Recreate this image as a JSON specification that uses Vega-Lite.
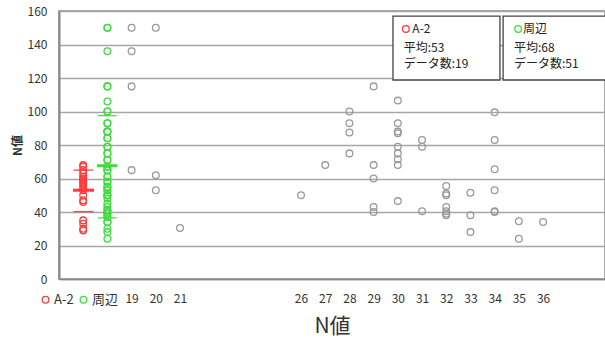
{
  "$schema": "https://vega.github.io/schema/vega-lite/v6.json",
  "width": 546,
  "height": 268,
  "autosize": {"type": "none"},
  "padding": {"left": 59, "top": 11, "right": 0, "bottom": 60},
  "background": "white",
  "config": {
    "font": "Noto Sans CJK JP",
    "view": {"stroke": "#8c8c8c", "strokeWidth": 1.5},
    "legend": {"orient": "none", "legendX": -20, "legendY": 282, "direction": "horizontal", "padding": 0, "labelFontSize": 13, "labelColor": "#333", "columnPadding": 3, "labelOffset": 2, "symbolSize": 45, "symbolStrokeWidth": 1.3}
  },
  "datasets": {
    "pts": [
      {"x": 17, "n": 68, "g": "A-2"}, {"x": 17, "n": 67, "g": "A-2"}, {"x": 17, "n": 65, "g": "A-2"}, {"x": 17, "n": 63, "g": "A-2"}, {"x": 17, "n": 61, "g": "A-2"}, {"x": 17, "n": 60, "g": "A-2"}, {"x": 17, "n": 59, "g": "A-2"}, {"x": 17, "n": 58, "g": "A-2"}, {"x": 17, "n": 57, "g": "A-2"}, {"x": 17, "n": 56, "g": "A-2"}, {"x": 17, "n": 54, "g": "A-2"}, {"x": 17, "n": 53, "g": "A-2"}, {"x": 17, "n": 50, "g": "A-2"}, {"x": 17, "n": 47, "g": "A-2"}, {"x": 17, "n": 46, "g": "A-2"}, {"x": 17, "n": 35, "g": "A-2"}, {"x": 17, "n": 33, "g": "A-2"}, {"x": 17, "n": 30, "g": "A-2"}, {"x": 17, "n": 29, "g": "A-2"},
      {"x": 18, "n": 150, "g": "周辺"}, {"x": 18, "n": 136, "g": "周辺"}, {"x": 18, "n": 115, "g": "周辺"}, {"x": 18, "n": 106, "g": "周辺"}, {"x": 18, "n": 100, "g": "周辺"}, {"x": 18, "n": 93, "g": "周辺"}, {"x": 18, "n": 88, "g": "周辺"}, {"x": 18, "n": 84, "g": "周辺"}, {"x": 18, "n": 79, "g": "周辺"}, {"x": 18, "n": 75, "g": "周辺"}, {"x": 18, "n": 71, "g": "周辺"}, {"x": 18, "n": 67, "g": "周辺"}, {"x": 18, "n": 65, "g": "周辺"}, {"x": 18, "n": 61, "g": "周辺"}, {"x": 18, "n": 58, "g": "周辺"}, {"x": 18, "n": 55, "g": "周辺"}, {"x": 18, "n": 53, "g": "周辺"}, {"x": 18, "n": 50, "g": "周辺"}, {"x": 18, "n": 48, "g": "周辺"}, {"x": 18, "n": 43, "g": "周辺"}, {"x": 18, "n": 41, "g": "周辺"}, {"x": 18, "n": 39, "g": "周辺"}, {"x": 18, "n": 37, "g": "周辺"}, {"x": 18, "n": 34, "g": "周辺"}, {"x": 18, "n": 30, "g": "周辺"}, {"x": 18, "n": 28, "g": "周辺"}, {"x": 18, "n": 24, "g": "周辺"},
      {"x": 18, "n": 150, "g": "周辺"}, {"x": 18, "n": 45, "g": "周辺"}, {"x": 18, "n": 115, "g": "周辺"}, {"x": 18, "n": 88, "g": "周辺"}, {"x": 18, "n": 100, "g": "周辺"}, {"x": 18, "n": 88, "g": "周辺"}, {"x": 18, "n": 93, "g": "周辺"}, {"x": 18, "n": 84, "g": "周辺"}, {"x": 18, "n": 79, "g": "周辺"}, {"x": 18, "n": 75, "g": "周辺"}, {"x": 18, "n": 71, "g": "周辺"}, {"x": 18, "n": 67, "g": "周辺"}, {"x": 18, "n": 65, "g": "周辺"}, {"x": 18, "n": 61, "g": "周辺"}, {"x": 18, "n": 58, "g": "周辺"}, {"x": 18, "n": 55, "g": "周辺"}, {"x": 18, "n": 53, "g": "周辺"}, {"x": 18, "n": 50, "g": "周辺"}, {"x": 18, "n": 50, "g": "周辺"}, {"x": 18, "n": 41, "g": "周辺"}, {"x": 18, "n": 40, "g": "周辺"}, {"x": 18, "n": 39, "g": "周辺"}, {"x": 18, "n": 37, "g": "周辺"}, {"x": 18, "n": 34, "g": "周辺"},
      {"x": 19, "n": 150, "g": "other"}, {"x": 19, "n": 136, "g": "other"}, {"x": 19, "n": 115, "g": "other"}, {"x": 19, "n": 65, "g": "other"},
      {"x": 20, "n": 150, "g": "other"}, {"x": 20, "n": 62, "g": "other"}, {"x": 20, "n": 53, "g": "other"},
      {"x": 21, "n": 30.5, "g": "other"},
      {"x": 26, "n": 50, "g": "other"},
      {"x": 27, "n": 68, "g": "other"},
      {"x": 28, "n": 100, "g": "other"}, {"x": 28, "n": 93, "g": "other"}, {"x": 28, "n": 87.5, "g": "other"}, {"x": 28, "n": 75, "g": "other"},
      {"x": 29, "n": 115, "g": "other"}, {"x": 29, "n": 68, "g": "other"}, {"x": 29, "n": 60, "g": "other"}, {"x": 29, "n": 43, "g": "other"}, {"x": 29, "n": 40, "g": "other"},
      {"x": 30, "n": 106.5, "g": "other"}, {"x": 30, "n": 93, "g": "other"}, {"x": 30, "n": 88, "g": "other"}, {"x": 30, "n": 87, "g": "other"}, {"x": 30, "n": 79, "g": "other"}, {"x": 30, "n": 75, "g": "other"}, {"x": 30, "n": 71.5, "g": "other"}, {"x": 30, "n": 68, "g": "other"}, {"x": 30, "n": 46.5, "g": "other"},
      {"x": 31, "n": 83, "g": "other"}, {"x": 31, "n": 79, "g": "other"}, {"x": 31, "n": 40.5, "g": "other"},
      {"x": 32, "n": 55.5, "g": "other"}, {"x": 32, "n": 51, "g": "other"}, {"x": 32, "n": 50, "g": "other"}, {"x": 32, "n": 43, "g": "other"}, {"x": 32, "n": 40.5, "g": "other"}, {"x": 32, "n": 39, "g": "other"}, {"x": 32, "n": 38, "g": "other"},
      {"x": 33, "n": 51.5, "g": "other"}, {"x": 33, "n": 38, "g": "other"}, {"x": 33, "n": 28, "g": "other"},
      {"x": 34, "n": 99.5, "g": "other"}, {"x": 34, "n": 83, "g": "other"}, {"x": 34, "n": 65.5, "g": "other"}, {"x": 34, "n": 53, "g": "other"}, {"x": 34, "n": 40.5, "g": "other"}, {"x": 34, "n": 40, "g": "other"},
      {"x": 35, "n": 34.5, "g": "other"}, {"x": 35, "n": 24, "g": "other"},
      {"x": 36, "n": 34, "g": "other"}
    ],
    "stats": [
      {"x": 16.58, "x2": 17.45, "n": 53, "g": "A-2", "k": "mean"},
      {"x": 16.6, "x2": 17.42, "n": 65, "g": "A-2", "k": "sd"},
      {"x": 16.6, "x2": 17.42, "n": 40.2, "g": "A-2", "k": "sd"},
      {"x": 17.57, "x2": 18.4, "n": 67.6, "g": "周辺", "k": "mean"},
      {"x": 17.6, "x2": 18.38, "n": 97.5, "g": "周辺", "k": "sd"},
      {"x": 17.6, "x2": 18.38, "n": 36.5, "g": "周辺", "k": "sd"}
    ],
    "boxes": [
      {"x": 29.8, "x2": 34.22, "n": 157, "n2": 118.8},
      {"x": 34.35, "x2": 40, "n": 157, "n2": 118.8}
    ],
    "boxtext": [
      {"x": 30.6, "n": 149.3, "t": "A-2"},
      {"x": 30.24, "n": 138.2, "t": "平均:53"},
      {"x": 30.24, "n": 128.2, "t": "データ数:19"},
      {"x": 35.17, "n": 149.3, "t": "周辺"},
      {"x": 34.8, "n": 138.2, "t": "平均:68"},
      {"x": 34.8, "n": 128.2, "t": "データ数:51"}
    ],
    "boxsym": [
      {"x": 30.33, "n": 149.3, "g": "A-2"},
      {"x": 34.97, "n": 149.3, "g": "周辺"}
    ]
  },
  "encoding": {
    "x": {"field": "x", "type": "quantitative", "scale": {"domain": [16, 38.56], "nice": false, "zero": false},
      "axis": {"values": [19, 20, 21, 26, 27, 28, 29, 30, 31, 32, 33, 34, 35, 36], "grid": false, "ticks": false, "labelPadding": 14, "labelFontSize": 12, "labelColor": "#333", "domainColor": "#888", "domainWidth": 1.5, "title": "N値", "titleFontSize": 21, "titleFontWeight": "normal", "titleColor": "#333", "titlePadding": 11}},
    "y": {"field": "n", "type": "quantitative", "scale": {"domain": [0, 160], "nice": false},
      "axis": {"values": [0, 20, 40, 60, 80, 100, 120, 140, 160], "grid": true, "gridColor": "#a6a6a6", "gridWidth": 1.5, "ticks": false, "labelPadding": 12, "labelFontSize": 12, "labelColor": "#333", "domainColor": "#888", "domainWidth": 2, "title": "N値", "titleFontSize": 12, "titleFontWeight": "bold", "titleColor": "#333", "titlePadding": 3}}
  },
  "layer": [
    {
      "data": {"name": "boxes"},
      "mark": {"type": "rect", "fill": "white", "stroke": "#444", "strokeWidth": 1.3, "clip": true},
      "encoding": {
        "x2": {"field": "x2"},
        "y2": {"field": "n2"}
      }
    },
    {
      "data": {"name": "pts"},
      "mark": {"type": "point", "filled": false, "size": 45, "strokeWidth": 1.3, "opacity": 1},
      "encoding": {
        "color": {"field": "g", "type": "nominal", "scale": {"domain": ["A-2", "周辺", "other"], "range": ["#ff3b3b", "#3ddc3d", "#9a9a9a"]},
          "legend": {"values": ["A-2", "周辺"], "title": null}}
      }
    },
    {
      "data": {"name": "stats"},
      "mark": {"type": "rule"},
      "encoding": {
        "x2": {"field": "x2"},
        "color": {"field": "g", "type": "nominal", "legend": null},
        "strokeWidth": {"field": "k", "type": "ordinal", "scale": {"domain": ["mean", "sd"], "range": [3, 1.2]}, "legend": null}
      }
    },
    {
      "data": {"name": "boxtext"},
      "mark": {"type": "text", "align": "left", "baseline": "middle", "fontSize": 12, "color": "#222"},
      "encoding": {
        "text": {"field": "t"}
      }
    },
    {
      "data": {"name": "boxsym"},
      "mark": {"type": "point", "filled": false, "size": 45, "strokeWidth": 1.3, "opacity": 1},
      "encoding": {
        "color": {"field": "g", "type": "nominal", "legend": null}
      }
    }
  ]
}
